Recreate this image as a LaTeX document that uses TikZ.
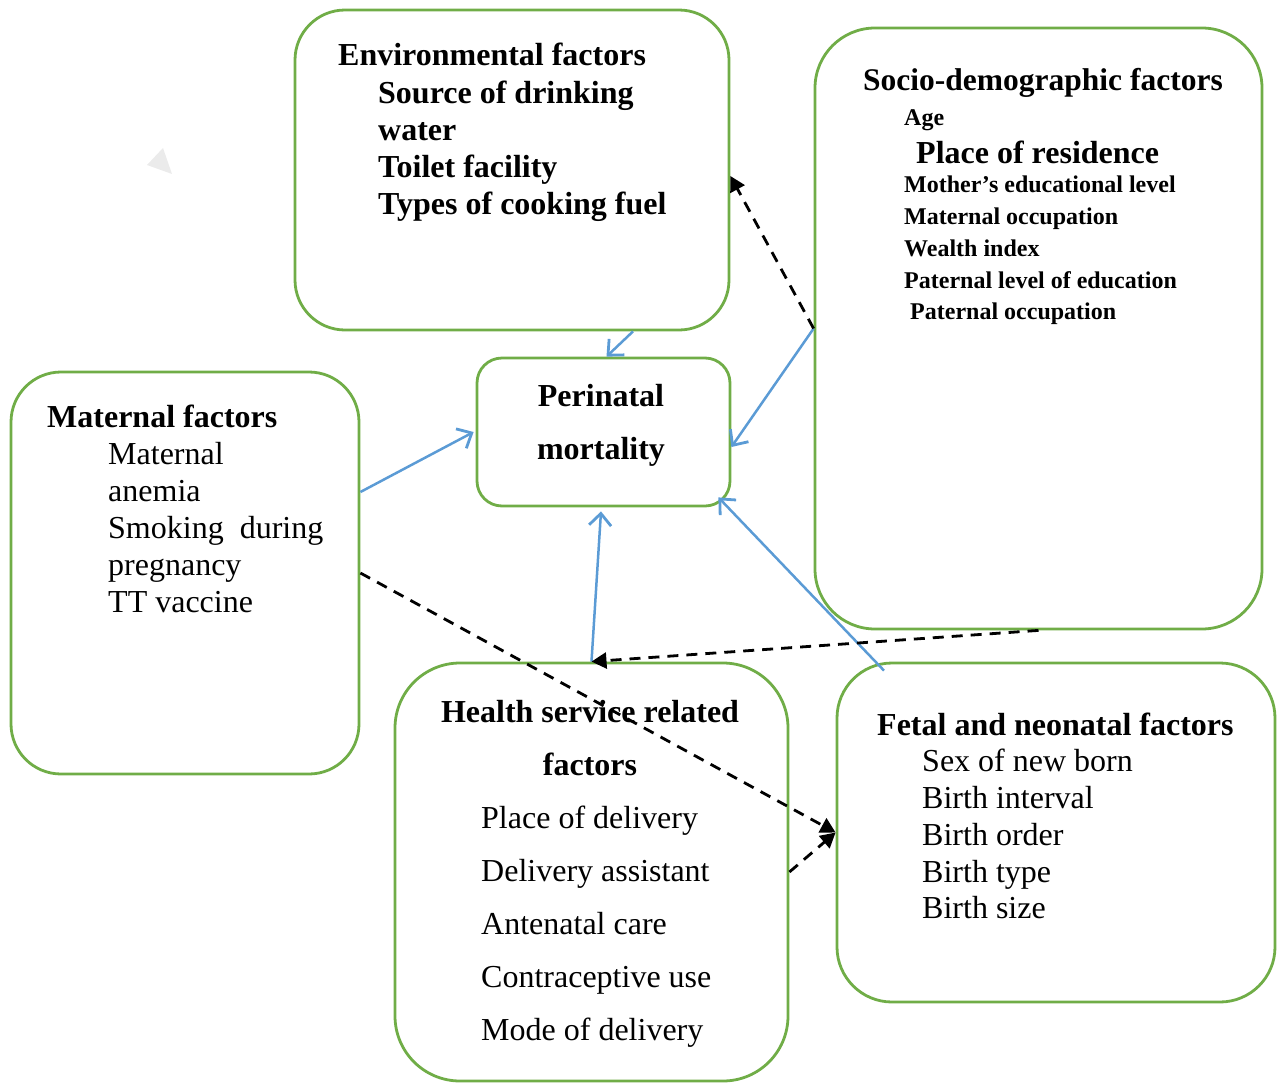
\documentclass[tikz,border=0pt]{standalone}
\usepackage{fontspec}
\setmainfont{Liberation Serif}
\usetikzlibrary{arrows.meta,calc}
\definecolor{boxgreen}{HTML}{70AD47}
\definecolor{arrblue}{HTML}{5B9BD5}
\definecolor{trigray}{HTML}{EBEBEB}
\begin{document}
\begin{tikzpicture}[x=1pt,y=-1pt,
  box/.style={draw=boxgreen, line width=2.8pt, inner sep=0pt, fill=none},
  hd/.style={font=\fontsize{32}{37}\selectfont\bfseries, anchor=base west, inner sep=0pt},
  tx/.style={font=\fontsize{32}{37}\selectfont, anchor=base west, inner sep=0pt},
  sm/.style={font=\fontsize{24}{28}\selectfont\bfseries, anchor=base west, inner sep=0pt},
  blu/.style={draw=arrblue, line width=2.5pt, -{Straight Barb[length=12pt,width=22pt,line width=2.8pt]}},
  dsh/.style={draw=black, line width=2.8pt, dash pattern=on 11pt off 8pt, -{Triangle[length=15pt,width=16pt]}}
]
\useasboundingbox (0,0) rectangle (1280,1082);

% light decorative triangle
\fill[trigray] (163,148) -- (147,165) -- (172,174) -- cycle;

% boxes
\node[box, minimum width=434pt, minimum height=320pt, rounded corners=50pt] (env) at (512,170) {};
\node[box, minimum width=447pt, minimum height=601pt, rounded corners=60pt] (soc) at (1038.5,328.5) {};
\node[box, minimum width=253pt, minimum height=148pt, rounded corners=25pt] (per) at (603.5,432) {};
\node[box, minimum width=348pt, minimum height=402pt, rounded corners=50pt] (mat) at (185,573) {};
\node[box, minimum width=393pt, minimum height=418pt, rounded corners=65pt] (hlt) at (591.5,872) {};
\node[box, minimum width=438pt, minimum height=339pt, rounded corners=55pt] (fet) at (1056,832.5) {};

% environmental
\node[hd] (envh) at (338,65) {Environmental factors};
\node[hd] (env1) at (378,103) {Source of drinking};
\node[hd] (env2) at (378,140) {water};
\node[hd] (env3) at (378,177) {Toilet facility};
\node[hd] (env4) at (378,214) {Types of cooking fuel};

% socio-demographic
\node[hd, font=\fontsize{31.5}{36}\selectfont\bfseries] (soch) at (863,90) {Socio-demographic factors};
\node[sm] (soc1) at (904,125) {Age};
\node[hd] (soc2) at (916,163) {Place of residence};
\node[sm] (soc3) at (904,192) {Mother’s educational level};
\node[sm] (soc4) at (904,224) {Maternal occupation};
\node[sm] (soc5) at (904,256) {Wealth index};
\node[sm] (soc6) at (904,288) {Paternal level of education};
\node[sm] (soc7) at (910,319) {Paternal occupation};

% perinatal
\node[hd, anchor=base] (per1) at (601,406) {Perinatal};
\node[hd, anchor=base] (per2) at (601,459) {mortality};

% maternal
\node[hd] (math) at (47,427) {Maternal factors};
\node[tx] (mat1) at (108,464) {Maternal};
\node[tx] (mat2) at (108,501) {anemia};
\node[tx] (mat3) at (108,538) {Smoking\hspace{16pt}during};
\node[tx] (mat4) at (108,575) {pregnancy};
\node[tx] (mat5) at (108,612) {TT vaccine};

% health service
\node[hd, anchor=base] (hlth) at (590,722) {Health service related};
\node[hd, anchor=base] (hlth2) at (590,775) {factors};
\node[tx] (hlt1) at (481,828) {Place of delivery};
\node[tx] (hlt2) at (481,881) {Delivery assistant};
\node[tx] (hlt3) at (481,934) {Antenatal care};
\node[tx] (hlt4) at (481,987) {Contraceptive use};
\node[tx] (hlt5) at (481,1040) {Mode of delivery};

% fetal and neonatal
\node[hd] (feth) at (877,735) {Fetal and neonatal factors};
\node[tx] (fet1) at (922,771) {Sex of new born};
\node[tx] (fet2) at (922,808) {Birth interval};
\node[tx] (fet3) at (922,845) {Birth order};
\node[tx] (fet4) at (922,882) {Birth type};
\node[tx] (fet5) at (922,918) {Birth size};

% connectors
\draw[blu] ([xshift=121pt]env.south) -- ([xshift=3pt]per.north);
\draw[blu] (soc.west) -- ([yshift=-15pt]per.east);
\draw[dsh] (soc.west) -- ([yshift=-6pt]env.east);
\draw[blu] ([yshift=81pt]mat.east) -- ([xshift=-2pt]per.west);
\draw[blu] (hlt.north) -- ([xshift=-2.5pt,yshift=-4pt]per.south);
\draw[blu] ([xshift=-172pt,yshift=-9pt]fet.north) -- ([xshift=-13pt,yshift=10pt]per.south east);
\draw[dsh] (soc.south) -- (hlt.north);
\draw[dsh] (mat.east) -- (fet.west);
\draw[dsh] (hlt.east) -- (fet.west);
\end{tikzpicture}
\end{document}
